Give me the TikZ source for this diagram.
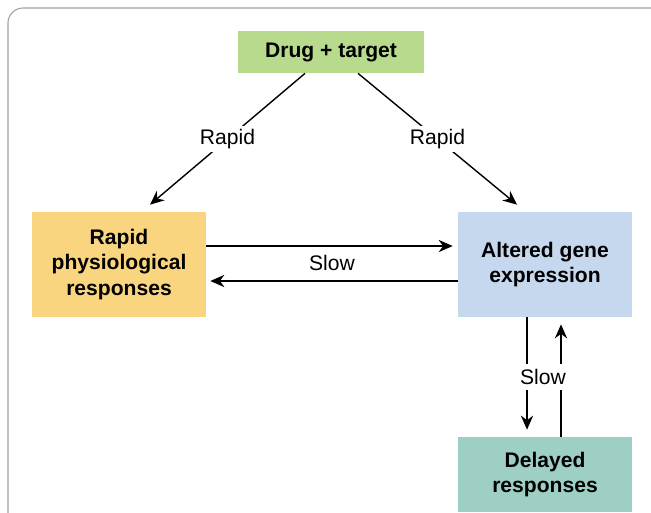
\documentclass[tikz,border=0pt]{standalone}
\definecolor{druggreen}{HTML}{B8DA8C}
\definecolor{rapidorange}{HTML}{F9D57F}
\definecolor{geneblue}{HTML}{C5D8EE}
\definecolor{delayteal}{HTML}{9ECFC5}
\definecolor{framegray}{HTML}{A0A0A0}
\usepackage{fontspec}
\setmainfont{Liberation Sans}
\usepackage{tikz}
\usetikzlibrary{arrows.meta, positioning}

\begin{document}
\begin{tikzpicture}[
        x=0.02cm, y=-0.02cm,
        every node/.style={font=\fontsize{12}{14.5}\selectfont},
        box/.style={
          rectangle, align=center, font=\fontsize{12}{14.5}\selectfont\bfseries,
          inner sep=4pt, minimum width=3.48cm, minimum height=2.1cm},
        conn/.style={draw, line width=0.8pt,
          -{Stealth[length=8pt, width=7pt]}},
        lbl/.style={fill=white, inner sep=2pt}
      ]
        \clip (0,0) rectangle (651,512);
        \draw[framegray, line width=0.6pt, rounded corners=0.3cm]
          (8,8) rectangle (700,560);
        \node[box, fill=druggreen, minimum width=3.72cm, minimum height=0.84cm]
          (drug) at (331, 52) {Drug + target};
        \node[box, fill=rapidorange] (rapid) at (119, 264.5)
          {Rapid\\physiological\\responses};
        \node[box, fill=geneblue] (gene) at (545, 264.5)
          {Altered gene\\expression};
        \node[box, fill=delayteal, minimum height=1.5cm] (delayed) at (545, 474.5)
          {Delayed\\responses};
        \draw[conn] ([xshift=-0.52cm]drug.south)
          -- ([xshift=0.62cm, yshift=0.14cm]rapid.north)
          node[midway, lbl]{Rapid};
        \draw[conn] ([xshift=0.54cm]drug.south)
          -- ([xshift=-0.56cm, yshift=0.14cm]gene.north)
          node[midway, lbl]{Rapid};
        \draw[conn, shorten >=0.1cm] ([yshift=0.37cm]rapid.east)
          -- ([yshift=0.37cm]gene.west)
          node[midway, yshift=-0.34cm]{Slow};
        \draw[conn, shorten >=0.08cm] ([yshift=-0.33cm]gene.west)
          -- ([yshift=-0.33cm]rapid.east);
        \draw[conn, shorten >=0.14cm] ([xshift=0.32cm]delayed.north)
          -- ([xshift=0.32cm]gene.south);
        \draw[conn, shorten >=0.14cm] ([xshift=-0.36cm]gene.south)
          -- ([xshift=-0.36cm]delayed.north)
          node[midway, xshift=0.32cm, lbl, inner sep=3pt]{Slow};
      \end{tikzpicture}
\end{document}
